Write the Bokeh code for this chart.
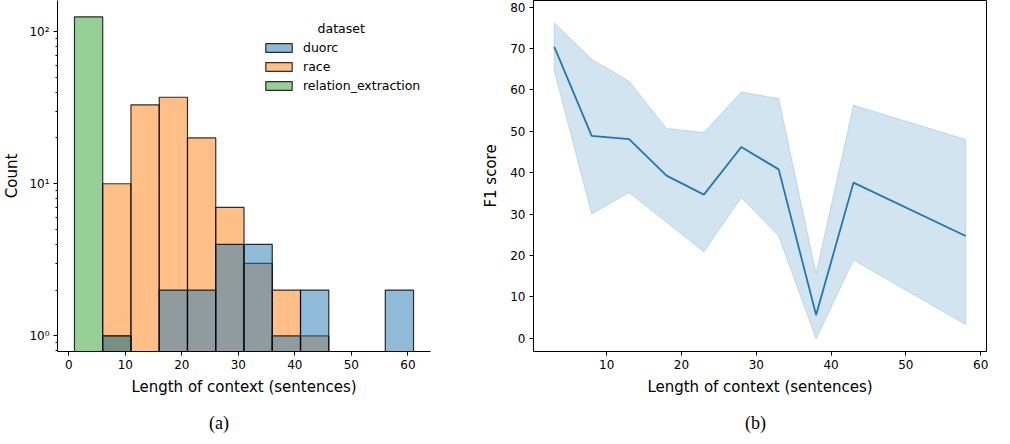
from bokeh.plotting import figure
from bokeh.models import (Range1d, FixedTicker, Legend, LegendItem, Label, Div,
                          SingleIntervalTicker, ColumnDataSource)
from bokeh.layouts import row, column
from bokeh.embed import file_html
from bokeh.resources import INLINE

# ---------------- data ----------------
# (a) histogram of context length per dataset (bins of 5 sentences)
bin_starts = [1, 6, 11, 16, 21, 26, 31, 36, 41, 46, 51, 56]
bin_width = 5
duorc_counts = [0, 1, 0, 2, 2, 4, 4, 1, 2, 0, 0, 2]
race_counts = [0, 10, 33, 37, 20, 7, 3, 2, 1, 0, 0, 0]
relation_counts = [125, 1, 0, 0, 0, 0, 0, 0, 0, 0, 0, 0]
series_names = ["duorc", "race", "relation_extraction"]
series_colors = ["#1f77b4", "#ff7f0e", "#2ca02c"]

log_major = [1, 10, 100]
log_minor = [0.8, 0.9, 2, 3, 4, 5, 6, 7, 8, 9, 20, 30, 40, 50, 60, 70, 80, 90]
log_labels = {1: "10\u2070", 10: "10\u00b9", 100: "10\u00b2"}

# (b) F1 score vs context length
context_len = [3, 8, 13, 18, 23, 28, 33, 38, 43, 58]
f1_mean = [70.4, 48.9, 48.1, 39.3, 34.7, 46.2, 40.8, 5.6, 37.6, 24.7]
f1_upper = [76.2, 67.4, 62.1, 50.7, 49.7, 59.5, 57.9, 15.6, 56.3, 48.0]
f1_lower = [64.6, 30.0, 35.2, 28.0, 20.9, 34.0, 24.7, -0.2, 18.9, 3.3]

FONT = "DejaVu Sans"
TICK_SIZE = "12px"
LABEL_SIZE = "15px"


def style_axis(ax):
    ax.axis_line_color = "black"
    ax.axis_line_width = 1
    ax.major_tick_line_color = "black"
    ax.minor_tick_line_color = "black"
    ax.major_tick_out = 4
    ax.major_tick_in = 0
    ax.minor_tick_out = 2
    ax.minor_tick_in = 0
    ax.major_label_text_font = FONT
    ax.major_label_text_font_size = TICK_SIZE
    ax.major_label_text_color = "black"
    ax.axis_label_text_font = FONT
    ax.axis_label_text_font_size = LABEL_SIZE
    ax.axis_label_text_font_style = "normal"
    ax.axis_label_text_color = "black"
    ax.major_label_standoff = 4


def caption(text, width, pad_left):
    html = ('<div style="padding-left:%dpx;font-family:\'Liberation Serif\','
            'serif;font-size:18px;line-height:13px;color:black;">%s</div>') % (pad_left, text)
    return Div(text=html, width=width, height=16)


# ---------------- (a) ----------------
p1 = figure(width=479, height=412, x_range=Range1d(-2, 64),
            y_range=Range1d(0.79, 160), y_axis_type="log", output_backend="svg",
            toolbar_location=None, min_border_left=52, min_border_right=49,
            min_border_top=0, min_border_bottom=61)
p1.outline_line_color = None
p1.xgrid.visible = False
p1.ygrid.visible = False

counts = {"duorc": duorc_counts, "race": race_counts, "relation_extraction": relation_counts}
renderers = {}
# draw in reverse so the first hue sits on top (seaborn layering)
for name, color in reversed(list(zip(series_names, series_colors))):
    c = counts[name]
    left = [b for b, v in zip(bin_starts, c) if v > 0]
    right = [b + bin_width for b in left]
    top = [v for v in c if v > 0]
    src = ColumnDataSource(dict(left=left, right=right, top=top))
    renderers[name] = p1.quad(left="left", right="right", top="top", bottom=0.5, source=src,
                              fill_color=color, fill_alpha=0.5, line_color="black",
                              line_alpha=0.8, line_width=1.2)

legend = Legend(items=[LegendItem(label=n, renderers=[renderers[n]]) for n in series_names],
                location=(205, 258), margin=0, padding=0, border_line_color=None,
                background_fill_alpha=0, glyph_width=33, glyph_height=11, label_height=15,
                label_standoff=8, spacing=4, label_text_font=FONT, label_text_font_size="12.5px",
                label_text_color="black")
p1.add_layout(legend)
p1.add_layout(Label(x=48.2, y=104, text="dataset", text_align="center",
                    text_baseline="middle", text_font=FONT, text_font_size="12.5px",
                    text_color="black"))

p1.xaxis.ticker = SingleIntervalTicker(interval=10, num_minor_ticks=0)
p1.yaxis.ticker = FixedTicker(ticks=log_major, minor_ticks=log_minor)
p1.yaxis.major_label_overrides = log_labels
p1.xaxis.axis_label = "Length of context (sentences)"
p1.yaxis.axis_label = "Count"
for ax in (p1.xaxis[0], p1.yaxis[0]):
    style_axis(ax)
p1.xaxis.axis_label_standoff = 6
p1.yaxis.axis_label_standoff = 5

# ---------------- (b) ----------------
p2 = figure(width=515, height=412, x_range=Range1d(0.22, 60.78),
            y_range=Range1d(-3.2, 81.6), output_backend="svg", toolbar_location=None,
            min_border_left=54, min_border_right=8, min_border_top=0, min_border_bottom=61)
p2.outline_line_color = "black"
p2.outline_line_width = 1
p2.xgrid.visible = False
p2.ygrid.visible = False

band_x = context_len + context_len[::-1]
band_y = f1_upper + f1_lower[::-1]
p2.patch(band_x, band_y, fill_color="#1f77b4", fill_alpha=0.2, line_color="#1f77b4",
         line_alpha=0.2, line_width=1)
p2.line(context_len, f1_mean, line_color="#1f77b4", line_width=1.8)

p2.xaxis.ticker = SingleIntervalTicker(interval=10, num_minor_ticks=0)
p2.yaxis.ticker = SingleIntervalTicker(interval=10, num_minor_ticks=0)
p2.xaxis.axis_label = "Length of context (sentences)"
p2.yaxis.axis_label = "F1 score"
for ax in (p2.xaxis[0], p2.yaxis[0]):
    style_axis(ax)
p2.xaxis.axis_label_standoff = 6
p2.yaxis.axis_label_standoff = 7

charts = row(p1, p2)
captions = row(caption("(a)", 479, 204), caption("(b)", 515, 251))
layout = column(charts, captions)
open("out.html", "w").write(file_html(layout, INLINE))
